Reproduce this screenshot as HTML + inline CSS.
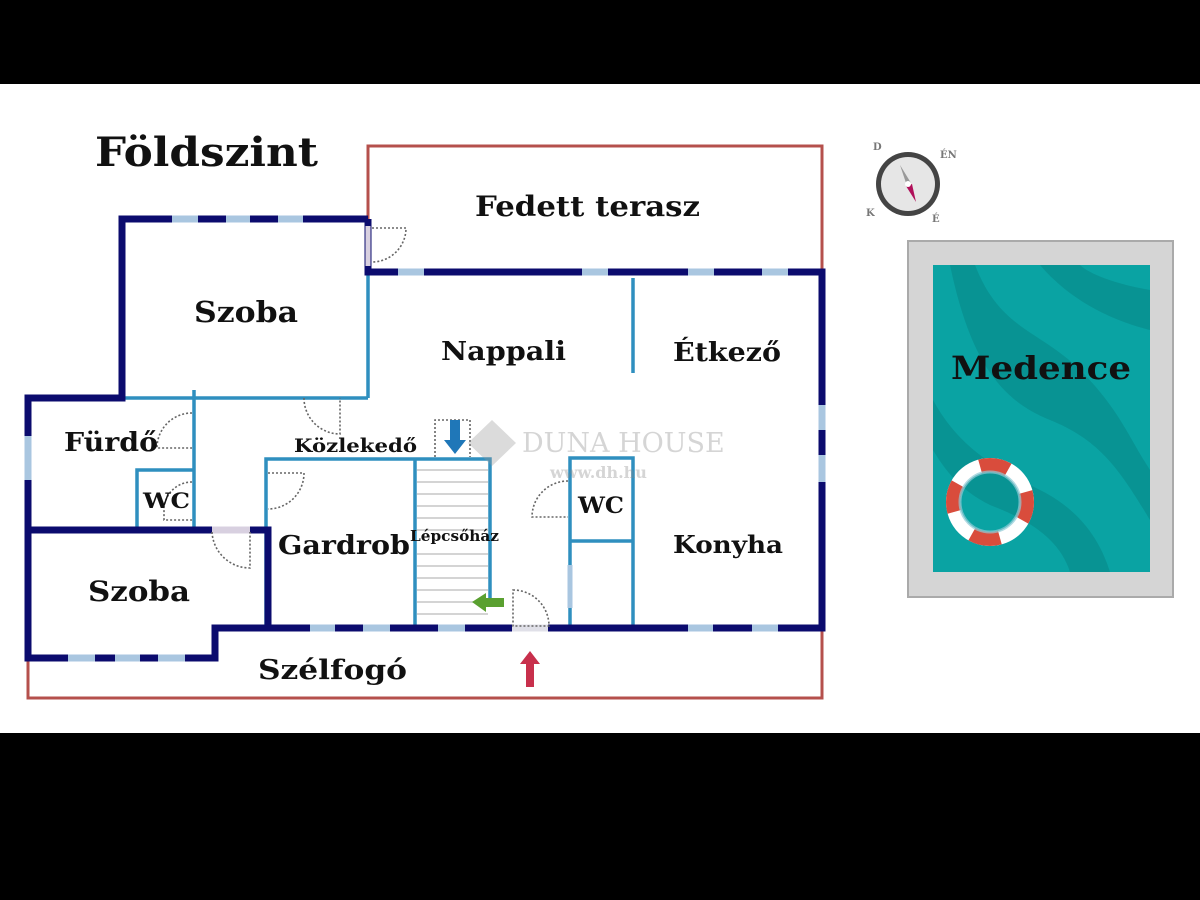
<!DOCTYPE html>
<html><head><meta charset="utf-8"><style>
html,body{margin:0;padding:0;background:#000;}
svg{display:block}
text{font-family:"DejaVu Serif","Liberation Serif",serif;font-weight:bold;fill:#111}
</style></head><body>
<svg width="1200" height="900" viewBox="0 0 1200 900" xmlns="http://www.w3.org/2000/svg">
<rect x="0" y="0" width="1200" height="900" fill="#000"/>
<rect x="0" y="84" width="1200" height="649" fill="#fff"/>

<!-- red outlines -->
<g stroke="#b5504c" stroke-width="3" fill="none">
<polyline points="368,219 368,146 822,146 822,272"/>
<polyline points="28,658 28,698 822,698 822,628"/>
</g>

<!-- inner light-blue walls -->
<g stroke="#2f8fbf" stroke-width="3.5" fill="none">
<line x1="368" y1="272" x2="368" y2="398"/>
<line x1="122" y1="398" x2="368" y2="398"/>
<line x1="194" y1="390" x2="194" y2="528"/>
<polyline points="137,528 137,470 194,470"/>
<line x1="633" y1="278" x2="633" y2="373"/>
<polyline points="266,628 266,459 490,459 490,605"/>
<line x1="415" y1="459" x2="415" y2="628"/>
<rect x="570" y="458" width="63" height="170"/>
<line x1="570" y1="541" x2="633" y2="541"/>
</g>
<!-- stairs -->
<g stroke="#bbb" stroke-width="1.2">
<line x1="417" y1="470" x2="488" y2="470"/><line x1="417" y1="482" x2="488" y2="482"/>
<line x1="417" y1="494" x2="488" y2="494"/><line x1="417" y1="506" x2="488" y2="506"/>
<line x1="417" y1="518" x2="488" y2="518"/><line x1="417" y1="530" x2="488" y2="530"/>
<line x1="417" y1="554" x2="488" y2="554"/><line x1="417" y1="566" x2="488" y2="566"/>
<line x1="417" y1="578" x2="488" y2="578"/><line x1="417" y1="590" x2="488" y2="590"/>
<line x1="417" y1="602" x2="488" y2="602"/><line x1="417" y1="614" x2="488" y2="614"/>
</g>

<!-- outer dark walls -->
<g stroke="#0b0b6e" stroke-width="7" fill="none" stroke-linejoin="miter">
<polyline points="368,219 122,219 122,398 28,398 28,658 215,658 215,628 822,628 822,272 368,272 368,219"/>
<polyline points="28,530 268,530 268,628"/>
</g>
<!-- windows -->
<g stroke="#a9c6e0" stroke-width="7">
<line x1="172" y1="219" x2="198" y2="219"/><line x1="226" y1="219" x2="250" y2="219"/><line x1="278" y1="219" x2="303" y2="219"/>
<line x1="398" y1="272" x2="424" y2="272"/><line x1="582" y1="272" x2="608" y2="272"/><line x1="688" y1="272" x2="714" y2="272"/><line x1="762" y1="272" x2="788" y2="272"/>
<line x1="28" y1="436" x2="28" y2="480"/>
<line x1="822" y1="405" x2="822" y2="430"/><line x1="822" y1="455" x2="822" y2="482"/>
<line x1="68" y1="658" x2="95" y2="658"/><line x1="115" y1="658" x2="140" y2="658"/><line x1="158" y1="658" x2="185" y2="658"/>
<line x1="310" y1="628" x2="335" y2="628"/><line x1="363" y1="628" x2="390" y2="628"/>
<line x1="438" y1="628" x2="465" y2="628"/><line x1="688" y1="628" x2="713" y2="628"/><line x1="752" y1="628" x2="778" y2="628"/>
<line x1="570" y1="565" x2="570" y2="608" stroke-width="5"/>
<line x1="368" y1="226" x2="368" y2="266" stroke-width="5" stroke="#d8d0e0"/>
<line x1="512" y1="628" x2="548" y2="628" stroke="#e0e0e8"/>
<line x1="212" y1="530" x2="250" y2="530" stroke="#d8d0e0"/>
</g>

<!-- doors -->
<g stroke="#666" stroke-width="1.6" stroke-dasharray="2,2" fill="none">
<path d="M372,228 H406 A34,34 0 0 1 372,262"/>
<path d="M304,398 A36,36 0 0 0 340,434 V398"/>
<path d="M192,413 A35,35 0 0 0 157,448 H192"/>
<path d="M192,482 A28,28 0 0 0 164,510 V520 H192"/>
<path d="M268,473 H304 A36,36 0 0 1 268,509"/>
<path d="M212,532 A38,38 0 0 0 250,568 V532"/>
<path d="M568,481 A36,36 0 0 0 532,517 H568"/>
<path d="M513,590 A36,36 0 0 1 549,626 H513 Z"/>
<path d="M435,457 V420 H470 V457"/>
</g>

<!-- arrows -->
<polygon points="450,420 460,420 460,440 466,440 455,454 444,440 450,440" fill="#1f77b8"/>
<polygon points="472,602 486,593 486,598 504,598 504,607 486,607 486,612" fill="#5aa030"/>
<polygon points="530,651 540,664 534,664 534,687 526,687 526,664 520,664" fill="#c8304c"/>

<!-- watermark -->
<g opacity="0.35">
<polygon points="492,420 516,443 492,466 468,443" fill="#999"/>
<text x="522" y="452" font-size="27" style="fill:#888;font-weight:normal" font-family="Liberation Serif">DUNA HOUSE</text>
<text x="550" y="478" font-size="16" style="fill:#888">www.dh.hu</text>
</g>

<!-- compass -->
<g>
<circle cx="908" cy="184" r="32" fill="#444"/>
<circle cx="908" cy="184" r="27" fill="#e6e6e6"/>
<polygon points="900,165 906,183 911,183" fill="#999"/>
<polygon points="916,202 906,186 912,184" fill="#b0105a"/>
<circle cx="908" cy="184" r="3" fill="#fff"/>
<text x="873" y="150" font-size="10" style="fill:#777">D</text>
<text x="940" y="158" font-size="10" style="fill:#777">ÉN</text>
<text x="866" y="216" font-size="10" style="fill:#777">K</text>
<text x="932" y="222" font-size="10" style="fill:#777">É</text>
</g>

<!-- pool -->
<rect x="908" y="241" width="265" height="356" fill="#d5d5d5" stroke="#aaa" stroke-width="2"/>
<rect x="933" y="265" width="217" height="307" fill="#0aa3a3"/>
<path d="M975,265 C1000,330 1040,330 1080,370 C1120,410 1130,440 1150,470 L1150,520 C1120,470 1100,440 1050,420 C1000,400 970,360 950,265 Z" fill="#088f8f" opacity="0.8"/>
<path d="M1040,265 C1070,300 1110,320 1150,330 L1150,290 C1120,285 1090,275 1080,265 Z" fill="#088f8f" opacity="0.8"/>
<path d="M933,400 C960,450 1000,470 1040,490 C1080,510 1100,540 1110,572 L1070,572 C1060,540 1030,520 990,505 C960,490 945,470 933,450 Z" fill="#088f8f" opacity="0.8"/>
<circle cx="990" cy="502" r="37" fill="none" stroke="#fff" stroke-width="14"/>
<circle cx="990" cy="502" r="37" fill="none" stroke="#d94c3c" stroke-width="14" stroke-dasharray="29,29" stroke-dashoffset="10"/>
<circle cx="990" cy="502" r="30" fill="none" stroke="#8fcbd6" stroke-width="3" opacity="0.7"/>

<!-- labels -->
<text x="95" y="166" font-size="40" textLength="223" lengthAdjust="spacingAndGlyphs">Földszint</text>
<text x="475" y="216" font-size="28" textLength="225" lengthAdjust="spacingAndGlyphs">Fedett terasz</text>
<text x="194" y="322" font-size="29" textLength="104" lengthAdjust="spacingAndGlyphs">Szoba</text>
<text x="441" y="360" font-size="26" textLength="125" lengthAdjust="spacingAndGlyphs">Nappali</text>
<text x="673" y="361" font-size="26" textLength="108" lengthAdjust="spacingAndGlyphs">Étkező</text>
<text x="951" y="379" font-size="32" textLength="180" lengthAdjust="spacingAndGlyphs">Medence</text>
<text x="64" y="451" font-size="26" textLength="94" lengthAdjust="spacingAndGlyphs">Fürdő</text>
<text x="294" y="452" font-size="19" textLength="123" lengthAdjust="spacingAndGlyphs">Közlekedő</text>
<text x="143" y="508" font-size="21" textLength="47" lengthAdjust="spacingAndGlyphs">WC</text>
<text x="278" y="554" font-size="26" textLength="132" lengthAdjust="spacingAndGlyphs">Gardrob</text>
<text x="410" y="541" font-size="15" textLength="89" lengthAdjust="spacingAndGlyphs">Lépcsőház</text>
<text x="578" y="513" font-size="22" textLength="46" lengthAdjust="spacingAndGlyphs">WC</text>
<text x="673" y="553" font-size="24" textLength="110" lengthAdjust="spacingAndGlyphs">Konyha</text>
<text x="88" y="601" font-size="28" textLength="102" lengthAdjust="spacingAndGlyphs">Szoba</text>
<text x="258" y="679" font-size="27" textLength="149" lengthAdjust="spacingAndGlyphs">Szélfogó</text>
</svg>
</body></html>
